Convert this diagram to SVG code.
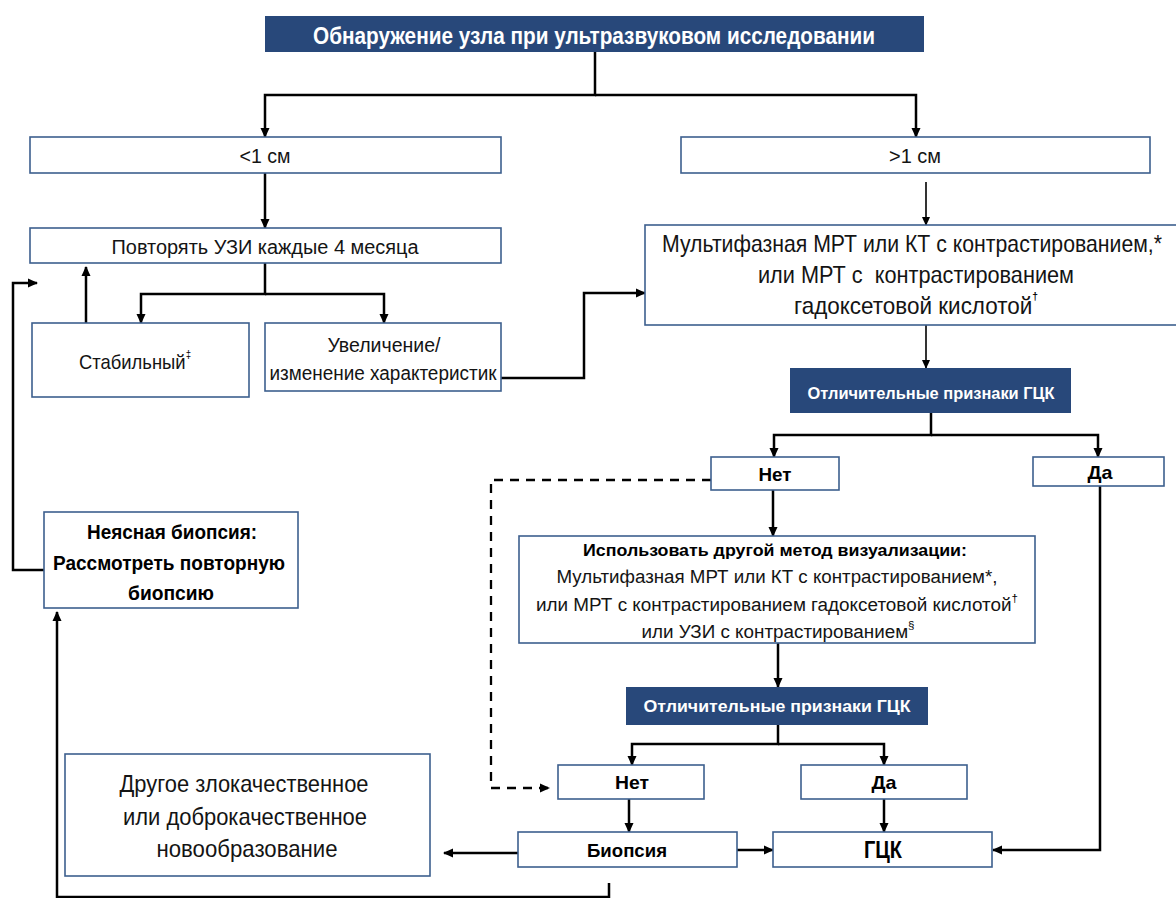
<svg xmlns="http://www.w3.org/2000/svg" width="1176" height="898" viewBox="0 0 1176 898">
<defs>
<marker id="ah" viewBox="0 0 10 10" refX="9" refY="5" markerWidth="10" markerHeight="10" markerUnits="userSpaceOnUse" orient="auto">
<path d="M0,0.5 L10,5 L0,9.5 Z" fill="#000"/>
</marker>
<marker id="ahs" viewBox="0 0 10 10" refX="9" refY="5" markerWidth="9" markerHeight="9" markerUnits="userSpaceOnUse" orient="auto">
<path d="M0,0.5 L10,5 L0,9.5 Z" fill="#000"/>
</marker>
</defs>
<style>
.bx{fill:#fff;stroke:#3d5f8e;stroke-width:1.6}
.dk{fill:#28487a;stroke:none}
.t{font-family:"Liberation Sans",Arial,sans-serif;fill:#141414;text-anchor:middle;dominant-baseline:central}
.b{font-weight:bold;fill:#000}
.w{font-family:"Liberation Sans",Arial,sans-serif;font-weight:bold;fill:#fff;text-anchor:middle;dominant-baseline:central}
.sup{font-size:11px;fill:#000}
.c{fill:none;stroke:#000;stroke-width:2.5;marker-end:url(#ah)}
.ct{fill:none;stroke:#000;stroke-width:1.6;marker-end:url(#ahs)}
.cd{fill:none;stroke:#000;stroke-width:2.3;stroke-dasharray:9,7;marker-end:url(#ah)}
</style>
<rect width="1176" height="898" fill="#fff"/>

<g id="connectors">
<path class="c" d="M595,52 V95 H265 V137"/>
<path class="c" d="M595,95 H916 V137"/>
<path class="c" d="M265,173 V228"/>
<path class="c" d="M265,263 V294 H141 V323"/>
<path class="c" d="M265,294 H384 V323"/>
<path class="c" d="M86,323 V267"/>
<path class="c" d="M501,378 H584 V293 H645"/>
<path class="ct" d="M926,182 V225"/>
<path class="ct" d="M926,325 V368"/>
<path class="c" d="M931,413 V435 H774 V457"/>
<path class="c" d="M931,435 H1098 V457"/>
<path class="c" d="M773,490 V536"/>
<path class="cd" d="M711,480 H491 V788 H549"/>
<path class="c" d="M1100,486 V850 H993"/>
<path class="c" d="M778,643 V687"/>
<path class="c" d="M778,725 V744 H632 V765"/>
<path class="c" d="M778,744 H884 V765"/>
<path class="c" d="M629,799 V832"/>
<path class="c" d="M884,799 V832"/>
<path class="c" d="M737,850 H773"/>
<path class="c" d="M518,853 H444"/>
<path class="c" d="M609,883 V897 H57 V612"/>
<path class="c" d="M44,570 H13 V283 H37"/>
</g>

<g id="n-title">
<rect class="dk" x="265" y="16" width="659" height="36"/>
<text class="w" x="594" y="35" font-size="24" textLength="562" lengthAdjust="spacingAndGlyphs">Обнаружение узла при ультразвуковом исследовании</text>
</g>

<g id="n-lt1">
<rect class="bx" x="30" y="137" width="471" height="36"/>
<text class="t" x="265" y="156" font-size="20" textLength="51" lengthAdjust="spacingAndGlyphs">&lt;1 см</text>
</g>

<g id="n-gt1">
<rect class="bx" x="681" y="137" width="469" height="36"/>
<text class="t" x="915" y="156" font-size="20" textLength="52" lengthAdjust="spacingAndGlyphs">&gt;1 см</text>
</g>

<g id="n-repeat">
<rect class="bx" x="30" y="228" width="471" height="35"/>
<text class="t" x="265" y="247" font-size="20" textLength="307" lengthAdjust="spacingAndGlyphs">Повторять УЗИ каждые 4 месяца</text>
</g>

<g id="n-stable">
<rect class="bx" x="32" y="323" width="217" height="74"/>
<text class="t" x="135" y="361" font-size="21" textLength="112" lengthAdjust="spacingAndGlyphs">Стабильный<tspan class="sup" dy="-7">‡</tspan></text>
</g>

<g id="n-change">
<rect class="bx" x="265" y="323" width="236" height="68"/>
<text class="t" x="384" y="345" font-size="20" textLength="113" lengthAdjust="spacingAndGlyphs">Увеличение/</text>
<text class="t" x="383" y="373" font-size="20" textLength="227" lengthAdjust="spacingAndGlyphs">изменение характеристик</text>
</g>

<g id="n-mri">
<rect class="bx" x="645" y="225" width="535" height="100"/>
<text class="t" x="912" y="243" font-size="24" textLength="500" lengthAdjust="spacingAndGlyphs">Мультифазная МРТ или КТ с контрастированием,*</text>
<text class="t" x="916" y="274" font-size="24" textLength="316" lengthAdjust="spacingAndGlyphs" style="white-space:pre">или МРТ с  контрастированием</text>
<text class="t" x="916" y="305" font-size="24" textLength="244" lengthAdjust="spacingAndGlyphs">гадоксетовой кислотой<tspan class="sup" dy="-9" font-weight="bold">†</tspan></text>
</g>

<g id="n-feat1">
<rect class="dk" x="790" y="368" width="281" height="45"/>
<text class="w" x="931" y="393" font-size="16" textLength="247" lengthAdjust="spacingAndGlyphs">Отличительные признаки ГЦК</text>
</g>

<g id="n-no1">
<rect class="bx" x="711" y="457" width="128" height="33"/>
<text class="t b" x="775" y="474" font-size="19" textLength="33" lengthAdjust="spacingAndGlyphs">Нет</text>
</g>

<g id="n-yes1">
<rect class="bx" x="1033" y="457" width="131" height="29"/>
<text class="t b" x="1100" y="472" font-size="19" textLength="25" lengthAdjust="spacingAndGlyphs">Да</text>
</g>

<g id="n-other-method">
<rect class="bx" x="519" y="536" width="516" height="107"/>
<text class="t b" x="775" y="550" font-size="17" textLength="384" lengthAdjust="spacingAndGlyphs">Использовать другой метод визуализации:</text>
<text class="t" x="777" y="577" font-size="18" textLength="441" lengthAdjust="spacingAndGlyphs">Мультифазная МРТ или КТ с контрастированием*,</text>
<text class="t" x="777" y="605" font-size="18" textLength="482" lengthAdjust="spacingAndGlyphs">или МРТ с контрастированием гадоксетовой кислотой<tspan class="sup" font-size="10" dy="-7">†</tspan></text>
<text class="t" x="778" y="632" font-size="18" textLength="273" lengthAdjust="spacingAndGlyphs">или УЗИ с контрастированием<tspan class="sup" font-size="10" dy="-7">§</tspan></text>
</g>

<g id="n-feat2">
<rect class="dk" x="626" y="687" width="302" height="38"/>
<text class="w" x="777" y="706" font-size="17" textLength="267" lengthAdjust="spacingAndGlyphs">Отличительные признаки ГЦК</text>
</g>

<g id="n-no2">
<rect class="bx" x="558" y="765" width="146" height="34"/>
<text class="t b" x="632" y="782" font-size="19" textLength="34" lengthAdjust="spacingAndGlyphs">Нет</text>
</g>

<g id="n-yes2">
<rect class="bx" x="801" y="765" width="166" height="34"/>
<text class="t b" x="884" y="782" font-size="19" textLength="25" lengthAdjust="spacingAndGlyphs">Да</text>
</g>

<g id="n-biopsy">
<rect class="bx" x="518" y="832" width="219" height="35"/>
<text class="t b" x="627" y="850" font-size="19" textLength="80" lengthAdjust="spacingAndGlyphs">Биопсия</text>
</g>

<g id="n-hcc">
<rect class="bx" x="773" y="832" width="219" height="35"/>
<text class="t b" x="883" y="850" font-size="23" textLength="38" lengthAdjust="spacingAndGlyphs">ГЦК</text>
</g>

<g id="n-unclear">
<rect class="bx" x="44" y="512" width="254" height="96"/>
<text class="t b" x="172" y="532" font-size="20" textLength="170" lengthAdjust="spacingAndGlyphs">Неясная биопсия:</text>
<text class="t b" x="169" y="563" font-size="20" textLength="232" lengthAdjust="spacingAndGlyphs">Рассмотреть повторную</text>
<text class="t b" x="171" y="593" font-size="20" textLength="86" lengthAdjust="spacingAndGlyphs">биопсию</text>
</g>

<g id="n-other">
<rect class="bx" x="65" y="754" width="365" height="122"/>
<text class="t" x="244" y="783" font-size="24" textLength="249" lengthAdjust="spacingAndGlyphs">Другое злокачественное</text>
<text class="t" x="245" y="816" font-size="24" textLength="244" lengthAdjust="spacingAndGlyphs">или доброкачественное</text>
<text class="t" x="247" y="848" font-size="24" textLength="181" lengthAdjust="spacingAndGlyphs">новообразование</text>
</g>
</svg>
